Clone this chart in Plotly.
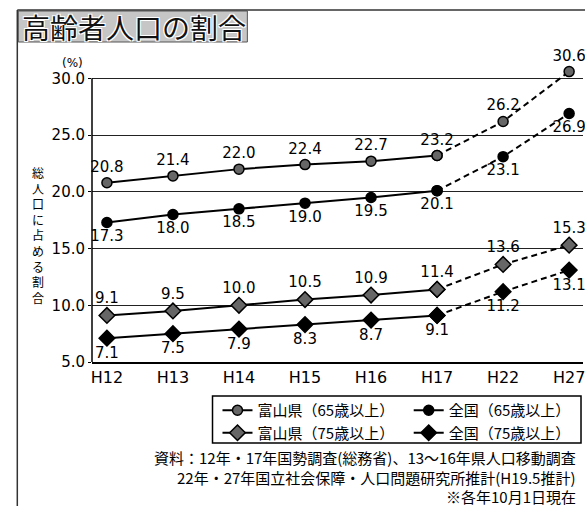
import plotly.graph_objects as go

# ---- data -------------------------------------------------------------
years = ["H12", "H13", "H14", "H15", "H16", "H17", "H22", "H27"]
toyama_65 = [20.8, 21.4, 22.0, 22.4, 22.7, 23.2, 26.2, 30.6]
japan_65 = [17.3, 18.0, 18.5, 19.0, 19.5, 20.1, 23.1, 26.9]
toyama_75 = [9.1, 9.5, 10.0, 10.5, 10.9, 11.4, 13.6, 15.3]
japan_75 = [7.1, 7.5, 7.9, 8.3, 8.7, 9.1, 11.2, 13.1]
y_ticks = [5.0, 10.0, 15.0, 20.0, 25.0, 30.0]

W, H = 585, 506
Y_MIN, Y_MAX, Y_TOP = 5, 30, 32.5   # headroom above 30 for the H27 point
L, B, R = 92, 144, 0
T = round(78 - (Y_TOP - Y_MAX) * (284 / (Y_MAX - Y_MIN)))
PW, PH = W - L - R, H - T - B


def px(x):
    return (x - L) / PW


def py(y):
    return (H - B - y) / PH


NUM_FONT = "DejaVu Sans"
JP_FONT = "Noto Sans CJK JP"

series = [
    ("富山県（65歳以上）", toyama_65, "circle", "#666", "top center", "legend"),
    ("全国（65歳以上）", japan_65, "circle", "black", "bottom center", "legend2"),
    ("富山県（75歳以上）", toyama_75, "diamond", "#666", "top center", "legend"),
    ("全国（75歳以上）", japan_75, "diamond", "black", "bottom center", "legend2"),
]

fig = go.Figure()
split = 5  # H17: last surveyed year, projections follow
for name, vals, sym, fill, tpos, leg in series:
    msize = 10 if sym == "circle" else 12
    marker = dict(symbol=sym, size=msize, color=fill,
                  line=dict(color="black", width=1.5))
    labels = [f"{v:.1f}" for v in vals]
    fig.add_trace(go.Scatter(
        x=years[:split + 1], y=vals[:split + 1], name=name, legend=leg,
        mode="lines+markers+text", text=labels[:split + 1],
        textposition=tpos, textfont=dict(family=NUM_FONT, size=15, color="black"),
        line=dict(color="black", width=2), marker=marker, cliponaxis=False,
    ))
    fig.add_trace(go.Scatter(
        x=years[split:], y=vals[split:], showlegend=False,
        mode="lines+markers+text", text=[""] + labels[split + 1:],
        textposition=tpos, textfont=dict(family=NUM_FONT, size=15, color="black"),
        line=dict(color="black", width=2, dash="6px,4px"), marker=marker,
        cliponaxis=False,
    ))

shapes = [
    # outer frame (left and top edges)
    dict(type="line", xref="paper", yref="paper", x0=px(17), x1=px(17),
         y0=py(10), y1=py(506), line=dict(color="#333", width=1.5)),
    dict(type="line", xref="paper", yref="paper", x0=px(17), x1=px(590),
         y0=py(10), y1=py(10), line=dict(color="#333", width=1.5)),
    # title plate
    dict(type="rect", xref="paper", yref="paper", x0=px(18), x1=px(248),
         y0=py(42), y1=py(11), fillcolor="#c6c6c6",
         line=dict(color="#555", width=1), layer="below"),
    # y axis line, 5.0 to 30.0 only
    dict(type="line", xref="paper", yref="y", x0=0, x1=0, y0=Y_MIN, y1=Y_MAX,
         line=dict(color="black", width=1.5)),
    # legend box
    dict(type="rect", xref="paper", yref="paper", x0=px(213), x1=px(583),
         y0=py(443), y1=py(396), line=dict(color="black", width=1.5)),
]

annotations = [
    dict(text="高齢者人口の割合", xref="paper", yref="paper", x=px(20), y=py(27),
         xanchor="left", yanchor="middle", showarrow=False,
         font=dict(family=JP_FONT, size=28, color="#111",
                   shadow="1px 1px 0 #fff, -1px -1px 0 #fff, 1px -1px 0 #fff, -1px 1px 0 #fff")),
    dict(text="(%)", xref="paper", yref="paper", x=px(72), y=py(63),
         xanchor="center", yanchor="middle", showarrow=False,
         font=dict(family=NUM_FONT, size=12, color="black")),
    # vertical axis title, one character per line
    dict(text="<br>".join("総人口に占める割合"), xref="paper", yref="paper",
         x=px(38), y=py(162), xanchor="center", yanchor="top", showarrow=False,
         font=dict(family=JP_FONT, size=12, color="black")),
    dict(text="資料：12年・17年国勢調査(総務省)、13～16年県人口移動調査",
         xref="paper", yref="paper", x=px(580), y=py(457), xanchor="right",
         yanchor="middle", showarrow=False,
         font=dict(family=JP_FONT, size=15, color="black")),
    dict(text="22年・27年国立社会保障・人口問題研究所推計(H19.5推計)",
         xref="paper", yref="paper", x=px(580), y=py(477), xanchor="right",
         yanchor="middle", showarrow=False,
         font=dict(family=JP_FONT, size=15, color="black")),
    dict(text="※各年10月1日現在",
         xref="paper", yref="paper", x=px(580), y=py(496), xanchor="right",
         yanchor="middle", showarrow=False,
         font=dict(family=JP_FONT, size=15, color="black")),
]

legend_common = dict(bgcolor="rgba(0,0,0,0)", borderwidth=0, tracegroupgap=0,
                     itemwidth=30, yanchor="top", xanchor="left",
                     font=dict(family=JP_FONT, size=15, color="black"))

fig.update_layout(
    width=W, height=H,
    margin=dict(l=L, r=R, t=T, b=B),
    paper_bgcolor="white", plot_bgcolor="white",
    showlegend=True,
    legend=dict(x=px(218), y=py(394), **legend_common),
    legend2=dict(x=px(410), y=py(394), **legend_common),
    xaxis=dict(type="category", categoryorder="array", categoryarray=years,
               range=[-0.226, 7.21], showline=True, linecolor="black",
               linewidth=1.5, showgrid=False, ticks="",
               tickfont=dict(family=NUM_FONT, size=16, color="black")),
    yaxis=dict(range=[Y_MIN, Y_TOP], tickvals=y_ticks,
               ticktext=[f"{v:.1f}" for v in y_ticks],
               showline=False, showgrid=True, gridcolor="#222", gridwidth=1,
               ticks="outside", ticklen=3, tickcolor="black",
               zeroline=False,
               tickfont=dict(family=NUM_FONT, size=15, color="black")),
    shapes=shapes, annotations=annotations,
)

fig.write_html("out.html")
